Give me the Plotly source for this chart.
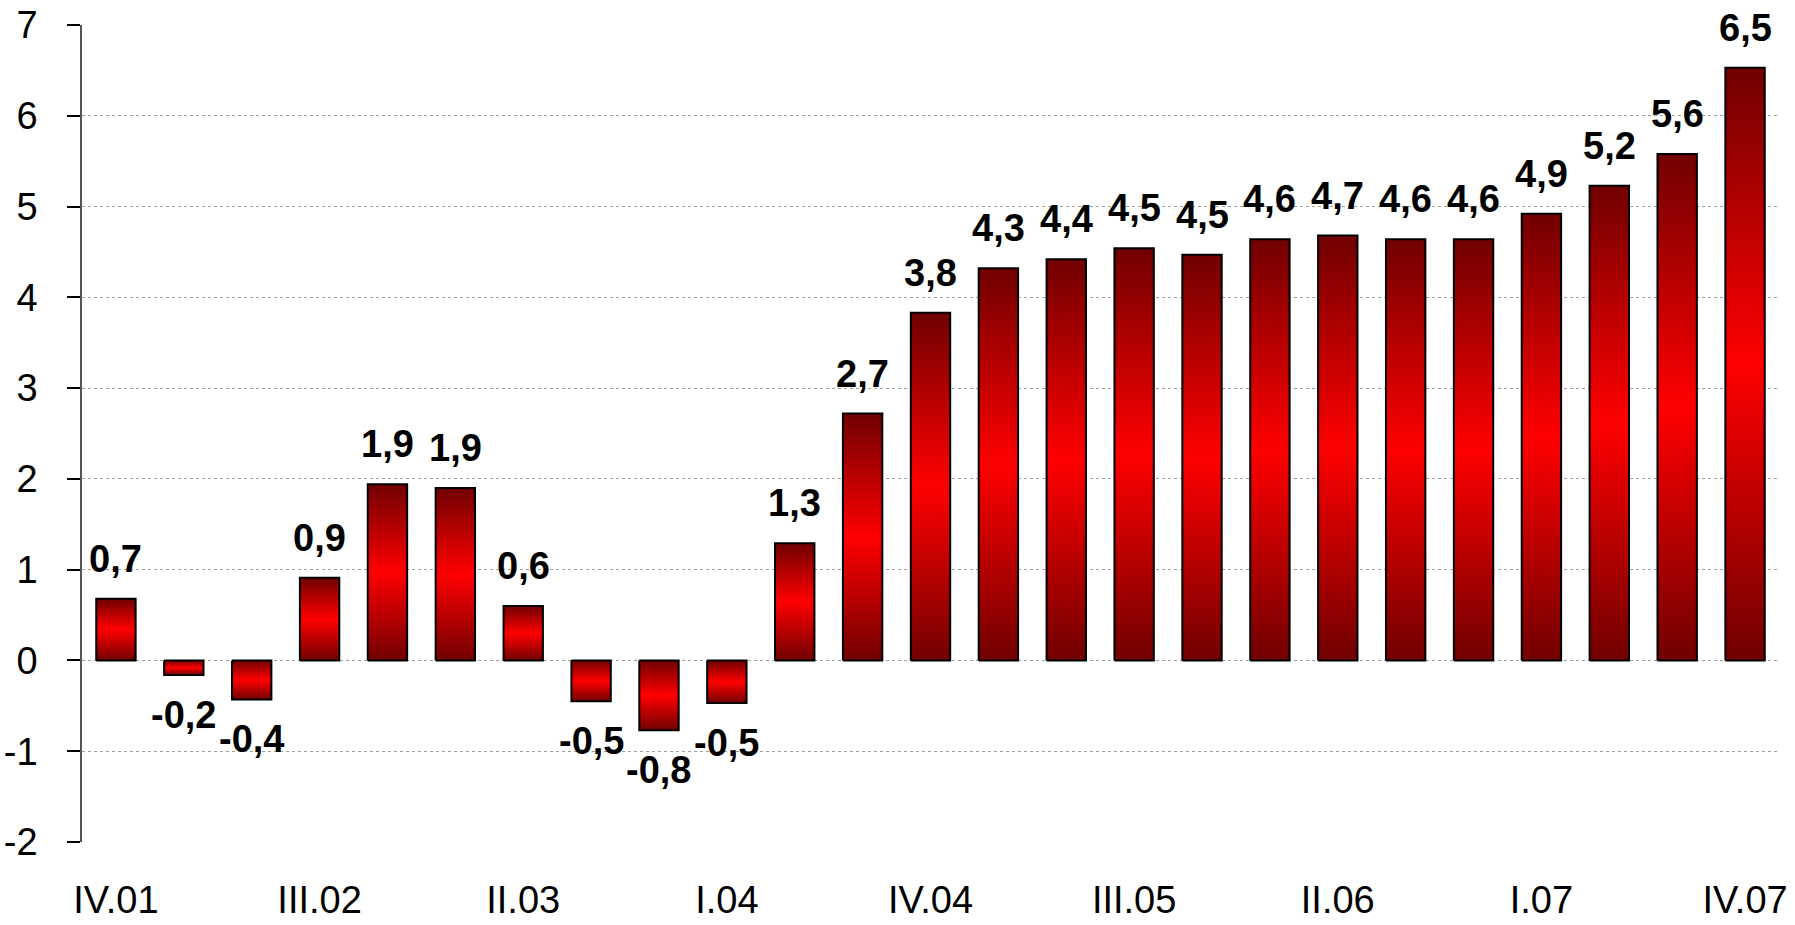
import plotly.graph_objects as go

quarters = ["IV.01", "I.02", "II.02", "III.02", "IV.02", "I.03", "II.03", "III.03", "IV.03",
            "I.04", "II.04", "III.04", "IV.04", "I.05", "II.05", "III.05", "IV.05",
            "I.06", "II.06", "III.06", "IV.06", "I.07", "II.07", "III.07", "IV.07"]
values = [0.68, -0.16, -0.43, 0.91, 1.94, 1.90, 0.60, -0.45, -0.77, -0.47, 1.29, 2.72, 3.83,
          4.32, 4.42, 4.54, 4.47, 4.64, 4.68, 4.64, 4.64, 4.92, 5.23, 5.58, 6.53]
labels = ["0,7", "-0,2", "-0,4", "0,9", "1,9", "1,9", "0,6", "-0,5", "-0,8", "-0,5", "1,3", "2,7", "3,8",
          "4,3", "4,4", "4,5", "4,5", "4,6", "4,7", "4,6", "4,6", "4,9", "5,2", "5,6", "6,5"]
tick_every = 3
y_ticks = list(range(-2, 8))
y_ticktext = [str(v) for v in y_ticks]

FONT = "Liberation Sans, Arial, sans-serif"
BAR_W = 0.58
dark, bright = "#700000", "#ff0000"

fig = go.Figure()
for i, v in enumerate(values):
    x0, x1 = i - BAR_W / 2, i + BAR_W / 2
    fig.add_trace(go.Scatter(
        x=[x0, x0, x1, x1, x0], y=[0, v, v, 0, 0],
        mode="lines", fill="toself",
        line=dict(color="black", width=2),
        fillgradient=dict(type="vertical",
                          colorscale=[[0, dark], [0.5, bright], [1, dark]]),
        hoverinfo="skip", showlegend=False))

for i, (v, t) in enumerate(zip(values, labels)):
    pos = v >= 0
    fig.add_annotation(x=i, y=v, text=f"<b>{t}</b>", showarrow=False,
                       yanchor="bottom" if pos else "top",
                       yshift=17 if pos else -17,
                       font=dict(family=FONT, size=38, color="black"))

tickvals = list(range(0, len(quarters), tick_every))
fig.update_layout(
    width=1795, height=925,
    margin=dict(l=82, r=16, t=25, b=83),
    plot_bgcolor="white", paper_bgcolor="white",
    font=dict(family=FONT, size=38, color="black"),
    xaxis=dict(range=[-0.5, len(quarters) - 0.5], tickmode="array",
               tickvals=tickvals, ticktext=[quarters[i] for i in tickvals],
               showgrid=False, zeroline=False, showline=False, ticks="",
               ticklabelstandoff=32, tickfont=dict(size=38), automargin=False),
    xaxis2=dict(range=[-0.5, len(quarters) - 0.5], overlaying="x", matches="x",
                anchor="free", position=2 / 9, side="bottom",
                tickmode="array", tickvals=[k - 0.5 for k in range(len(quarters) + 1)],
                showticklabels=False, ticks="outside", ticklen=14, tickwidth=1.5,
                tickcolor="black", showline=True, linecolor="#333333", linewidth=1.5,
                showgrid=False, zeroline=False, automargin=False),
    yaxis=dict(range=[-2, 7], tickmode="array", tickvals=y_ticks, ticktext=y_ticktext,
               showgrid=True, gridcolor="#a0a0a0", griddash="dot", gridwidth=1,
               zeroline=False, showline=True, linecolor="#555555", linewidth=1.5,
               ticks="outside", ticklen=13, tickcolor="black", tickwidth=1.5,
               ticklabelstandoff=22, tickfont=dict(size=38), automargin=False),
)
fig.write_html("out.html", config={"displayModeBar": False},
               post_script="document.body.style.margin='0';")
